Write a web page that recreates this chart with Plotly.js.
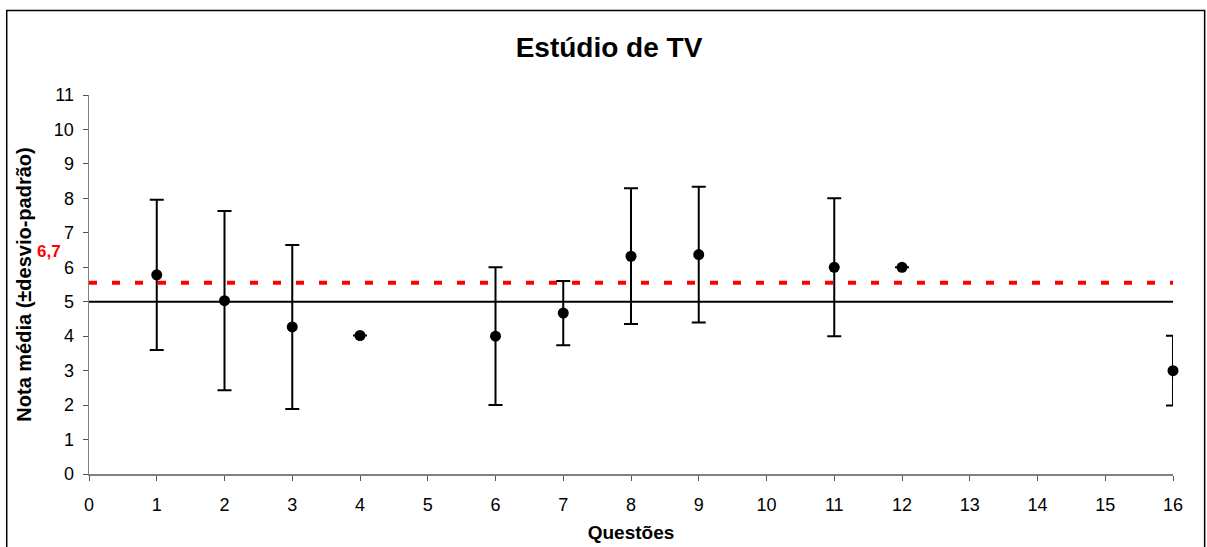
<!DOCTYPE html>
<html>
<head>
<meta charset="utf-8">
<script src="https://cdn.plot.ly/plotly-3.0.1.min.js"></script>
<style>html,body{margin:0;padding:0;background:#fff;}#chart{width:1207px;height:547px;}</style>
</head>
<body>
<div id="chart"></div>
<script>
// Data
var questoes = [1, 2, 3, 4, 6, 7, 8, 9, 11, 12, 16];
var notaMedia = [5.78, 5.03, 4.27, 4.02, 4.0, 4.67, 6.32, 6.37, 6.0, 6.0, 3.0];
var desvioPadrao = [2.18, 2.6, 2.38, 0, 2.0, 0.93, 1.97, 1.97, 2.0, 0, 1.01];
var linhaBase = 5;
var linhaMedia = 5.55;
var rotuloMedia = "6,7";
var rotuloMediaY = 6.45;
var xRange = [0, 16];
var yRange = [0, 11];

var font = "Liberation Sans, Arial, sans-serif";

var traces = [
  {
    x: xRange, y: [linhaBase, linhaBase], mode: "lines", type: "scatter",
    line: {color: "#000", width: 1.8}, hoverinfo: "skip", showlegend: false, cliponaxis: false
  },
  {
    x: xRange, y: [linhaMedia, linhaMedia], mode: "lines", type: "scatter",
    line: {color: "#ff0000", width: 4, dash: "8px,15px"}, hoverinfo: "skip", showlegend: false, cliponaxis: false
  },
  {
    x: questoes, y: notaMedia, mode: "markers", type: "scatter",
    marker: {color: "#000", size: 11},
    error_y: {type: "data", array: desvioPadrao, visible: true, color: "#000", thickness: 2, width: 7},
    showlegend: false, cliponaxis: false
  }
];

var layout = {
  width: 1207, height: 547,
  margin: {l: 89, r: 34, t: 95, b: 73},
  paper_bgcolor: "#fff", plot_bgcolor: "#fff",
  font: {family: font, color: "#000", size: 18},
  title: {
    text: "<b>Estúdio de TV</b>", font: {family: font, size: 28, color: "#000"},
    x: 609/1207, xref: "container", xanchor: "center", y: 1 - 47/547, yref: "container", yanchor: "middle"
  },
  xaxis: {
    range: xRange, dtick: 1, tick0: 0, showgrid: false, zeroline: false,
    showline: true, linecolor: "#808080", linewidth: 2,
    ticks: "outside", ticklen: 5, tickcolor: "#555", tickwidth: 1,
    ticklabelstandoff: 8,
    tickfont: {family: font, size: 18, color: "#000"},
    title: {text: "<b>Questões</b>", font: {family: font, size: 19, color: "#000"}, standoff: 12},
    fixedrange: true
  },
  yaxis: {
    range: yRange, dtick: 1, tick0: 0, showgrid: false, zeroline: false,
    showline: true, linecolor: "#808080", linewidth: 1.5,
    ticks: "outside", ticklen: 5, tickcolor: "#555", tickwidth: 1,
    ticklabelstandoff: 5,
    tickfont: {family: font, size: 18, color: "#000"},
    title: {text: "<b>Nota média (±desvio-padrão)</b>", font: {family: font, size: 20, color: "#000"}, standoff: 17},
    fixedrange: true
  },
  annotations: [
    {
      text: "<b>" + rotuloMedia + "</b>", xref: "paper", x: -0.0365, yref: "y", y: rotuloMediaY,
      xanchor: "center", yanchor: "middle", showarrow: false,
      font: {family: font, size: 17, color: "#ff0000"}
    }
  ],
  shapes: [
    {
      type: "rect", xref: "paper", yref: "paper",
      x0: -0.0759, x1: 1.0292, y0: -0.21, y1: 1.2231,
      line: {color: "#000", width: 1.5}, fillcolor: "rgba(0,0,0,0)", layer: "below"
    }
  ]
};

Plotly.newPlot("chart", traces, layout, {displayModeBar: false, staticPlot: true});
</script>
</body>
</html>
